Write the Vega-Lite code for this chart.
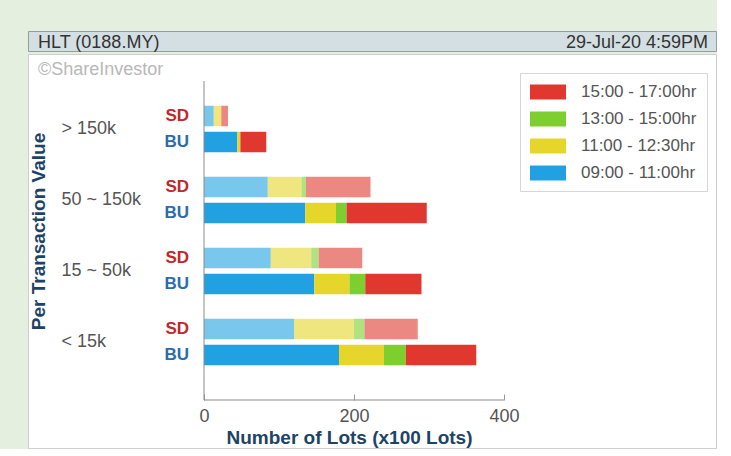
{
  "$schema": "https://vega.github.io/schema/vega-lite/v6.json",
  "background": "#e4efe0",
  "padding": {"left": 27, "top": 30, "right": 0, "bottom": 0},
  "spacing": 0,
  "config": {"font": "Liberation Sans", "concat": {"spacing": 0}},
  "datasets": {
    "bars": [
      {"group": "> 150k", "type": "SD", "period": "09:00 - 11:00hr", "k": 1, "v": 13},
      {"group": "> 150k", "type": "SD", "period": "11:00 - 12:30hr", "k": 2, "v": 10},
      {"group": "> 150k", "type": "SD", "period": "13:00 - 15:00hr", "k": 3, "v": 0},
      {"group": "> 150k", "type": "SD", "period": "15:00 - 17:00hr", "k": 4, "v": 9},
      {"group": "> 150k", "type": "BU", "period": "09:00 - 11:00hr", "k": 1, "v": 44.5},
      {"group": "> 150k", "type": "BU", "period": "11:00 - 12:30hr", "k": 2, "v": 4},
      {"group": "> 150k", "type": "BU", "period": "13:00 - 15:00hr", "k": 3, "v": 0},
      {"group": "> 150k", "type": "BU", "period": "15:00 - 17:00hr", "k": 4, "v": 34.5},
      {"group": "50 ~ 150k", "type": "SD", "period": "09:00 - 11:00hr", "k": 1, "v": 85},
      {"group": "50 ~ 150k", "type": "SD", "period": "11:00 - 12:30hr", "k": 2, "v": 45},
      {"group": "50 ~ 150k", "type": "SD", "period": "13:00 - 15:00hr", "k": 3, "v": 6},
      {"group": "50 ~ 150k", "type": "SD", "period": "15:00 - 17:00hr", "k": 4, "v": 86},
      {"group": "50 ~ 150k", "type": "BU", "period": "09:00 - 11:00hr", "k": 1, "v": 135},
      {"group": "50 ~ 150k", "type": "BU", "period": "11:00 - 12:30hr", "k": 2, "v": 41},
      {"group": "50 ~ 150k", "type": "BU", "period": "13:00 - 15:00hr", "k": 3, "v": 14},
      {"group": "50 ~ 150k", "type": "BU", "period": "15:00 - 17:00hr", "k": 4, "v": 107},
      {"group": "15 ~ 50k", "type": "SD", "period": "09:00 - 11:00hr", "k": 1, "v": 89},
      {"group": "15 ~ 50k", "type": "SD", "period": "11:00 - 12:30hr", "k": 2, "v": 54},
      {"group": "15 ~ 50k", "type": "SD", "period": "13:00 - 15:00hr", "k": 3, "v": 10},
      {"group": "15 ~ 50k", "type": "SD", "period": "15:00 - 17:00hr", "k": 4, "v": 58},
      {"group": "15 ~ 50k", "type": "BU", "period": "09:00 - 11:00hr", "k": 1, "v": 147},
      {"group": "15 ~ 50k", "type": "BU", "period": "11:00 - 12:30hr", "k": 2, "v": 47},
      {"group": "15 ~ 50k", "type": "BU", "period": "13:00 - 15:00hr", "k": 3, "v": 21},
      {"group": "15 ~ 50k", "type": "BU", "period": "15:00 - 17:00hr", "k": 4, "v": 75},
      {"group": "< 15k", "type": "SD", "period": "09:00 - 11:00hr", "k": 1, "v": 120},
      {"group": "< 15k", "type": "SD", "period": "11:00 - 12:30hr", "k": 2, "v": 80},
      {"group": "< 15k", "type": "SD", "period": "13:00 - 15:00hr", "k": 3, "v": 14},
      {"group": "< 15k", "type": "SD", "period": "15:00 - 17:00hr", "k": 4, "v": 71},
      {"group": "< 15k", "type": "BU", "period": "09:00 - 11:00hr", "k": 1, "v": 180},
      {"group": "< 15k", "type": "BU", "period": "11:00 - 12:30hr", "k": 2, "v": 60},
      {"group": "< 15k", "type": "BU", "period": "13:00 - 15:00hr", "k": 3, "v": 29},
      {"group": "< 15k", "type": "BU", "period": "15:00 - 17:00hr", "k": 4, "v": 94}
    ],
    "rows": [
      {"group": "> 150k", "type": "SD"}, {"group": "> 150k", "type": "BU"},
      {"group": "50 ~ 150k", "type": "SD"}, {"group": "50 ~ 150k", "type": "BU"},
      {"group": "15 ~ 50k", "type": "SD"}, {"group": "15 ~ 50k", "type": "BU"},
      {"group": "< 15k", "type": "SD"}, {"group": "< 15k", "type": "BU"}
    ],
    "axislines": [
      {"x": 0, "x2": 0, "y": 0, "y2": 1},
      {"x": 0, "x2": 400, "y": 0, "y2": 0}
    ]
  },
  "vconcat": [
    {
      "width": 688,
      "height": 20,
      "view": {"fill": "#d3dfe2", "stroke": "#8e9ea1", "strokeWidth": 1},
      "layer": [
        {
          "data": {"values": [{"t": "HLT (0188.MY)"}]},
          "mark": {"type": "text", "align": "left", "baseline": "alphabetic", "fontSize": 18, "color": "#333333", "dx": 10},
          "encoding": {"x": {"value": 0}, "y": {"value": 17}, "text": {"field": "t"}}
        },
        {
          "data": {"values": [{"t": "29-Jul-20 4:59PM"}]},
          "mark": {"type": "text", "align": "right", "baseline": "alphabetic", "fontSize": 18, "color": "#333333", "dx": -8},
          "encoding": {"x": {"value": "width"}, "y": {"value": 17}, "text": {"field": "t"}}
        }
      ]
    },
    {
      "width": 688,
      "height": 394,
      "view": {"fill": "#ffffff", "stroke": "#cfcfcf", "strokeWidth": 1},
      "resolve": {"scale": {"y": "independent"}},
      "layer": [
        {
          "data": {"values": [{"t": "©ShareInvestor"}]},
          "mark": {"type": "text", "align": "left", "baseline": "alphabetic", "fontSize": 18, "color": "#b8b8b8", "dx": 10},
          "encoding": {"x": {"value": 0}, "y": {"value": 21}, "text": {"field": "t"}}
        },
        {
          "data": {"name": "bars"},
          "mark": {"type": "bar"},
          "encoding": {
            "y": {
              "field": "group", "type": "nominal",
              "scale": {"domain": ["> 150k", "50 ~ 150k", "15 ~ 50k", "< 15k"], "paddingInner": 0.2676, "paddingOuter": 0.908, "align": 0.38},
              "axis": {"orient": "left", "offset": -33, "domain": false, "ticks": false, "labelAlign": "left", "labelPadding": 0, "labelFontSize": 18, "labelColor": "#555555", "labelBaseline": "middle",
                "title": "Per Transaction Value", "titleFontSize": 19, "titleFontWeight": "bold", "titleColor": "#1d4466", "titleX": -17, "titleY": 177, "titleAngle": -90, "titleAlign": "center", "titleBaseline": "alphabetic"}
            },
            "yOffset": {"field": "type", "type": "nominal", "scale": {"domain": ["SD", "BU"], "paddingInner": 0.2115, "paddingOuter": 0.1058}},
            "x": {
              "field": "v", "type": "quantitative", "stack": "zero",
              "scale": {"domain": [-234.67, 682.67], "nice": false, "zero": false},
              "axis": {"orient": "bottom", "offset": -48, "values": [0, 200, 400], "grid": false, "domain": false, "ticks": true, "tickSize": -6, "tickColor": "#9a9a9a", "labelPadding": 13, "labelFontSize": 18, "labelColor": "#555555",
                "title": "Number of Lots (x100 Lots)", "titleFontSize": 19, "titleFontWeight": "bold", "titleColor": "#1d4466", "titleX": 321, "titleY": 43, "titleAlign": "center", "titleBaseline": "alphabetic"}
            },
            "color": {
              "field": "period", "type": "nominal",
              "scale": {"domain": ["15:00 - 17:00hr", "13:00 - 15:00hr", "11:00 - 12:30hr", "09:00 - 11:00hr"], "range": ["#e0382f", "#7ccf2e", "#e6d52a", "#22a1e2"]},
              "legend": {"orient": "none", "legendX": 492, "legendY": 42, "title": null, "fillColor": "#ffffff", "strokeColor": "#d6d6d6", "padding": 10, "symbolType": "M-1,-0.833H3V0.833H-1Z", "symbolSize": 324, "symbolStrokeWidth": 0, "symbolOpacity": 1, "labelFontSize": 17, "labelColor": "#555555", "labelOffset": 33, "rowPadding": 10}
            },
            "opacity": {"field": "type", "type": "nominal", "scale": {"domain": ["SD", "BU"], "range": [0.6, 1]}, "legend": null},
            "order": {"field": "k", "type": "quantitative"}
          }
        },
        {
          "data": {"name": "rows"},
          "mark": {"type": "text", "align": "right", "baseline": "middle", "fontSize": 17, "fontWeight": "bold", "dx": -15},
          "encoding": {
            "y": {"field": "group", "type": "nominal", "scale": {"domain": ["> 150k", "50 ~ 150k", "15 ~ 50k", "< 15k"], "paddingInner": 0.2676, "paddingOuter": 0.908, "align": 0.38}, "axis": null},
            "yOffset": {"field": "type", "type": "nominal", "scale": {"domain": ["SD", "BU"], "paddingInner": 0.2115, "paddingOuter": 0.1058}},
            "x": {"datum": 0},
            "text": {"field": "type"},
            "color": {"condition": {"test": "datum.type === 'SD'", "value": "#c0282d"}, "value": "#2c6cae"}
          }
        },
        {
          "data": {"name": "axislines"},
          "mark": {"type": "rule", "color": "#8a8a8a", "strokeWidth": 1},
          "encoding": {
            "x": {"field": "x", "type": "quantitative"},
            "x2": {"field": "x2"},
            "y": {"field": "y", "type": "quantitative", "scale": {"domain": [-0.15047, 1.08464], "nice": false, "zero": false}, "axis": null},
            "y2": {"field": "y2"}
          }
        }
      ]
    }
  ]
}
